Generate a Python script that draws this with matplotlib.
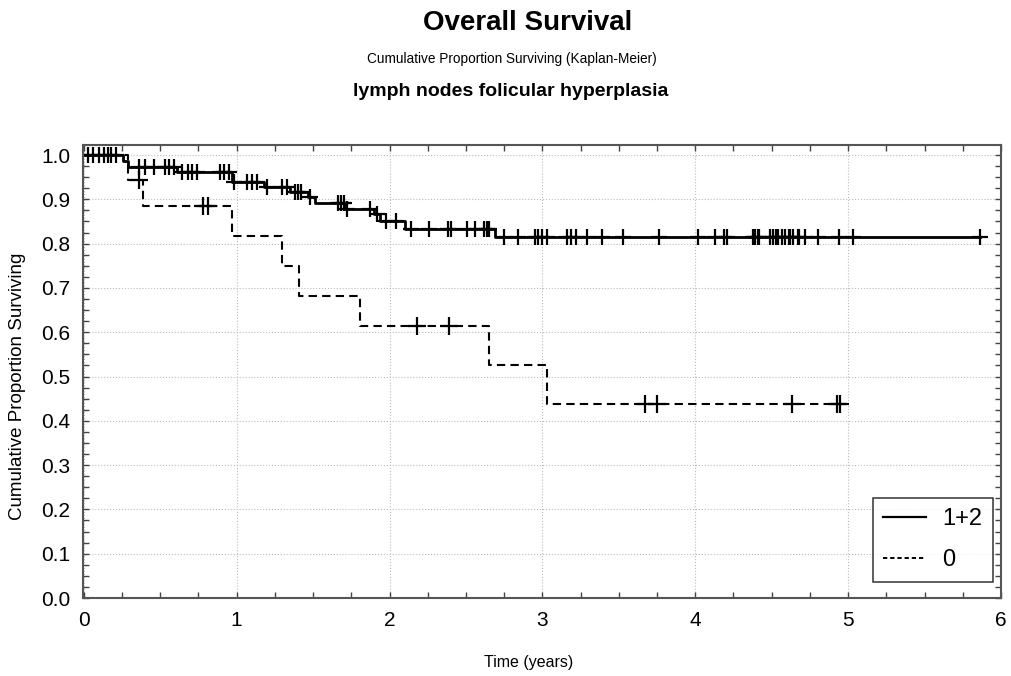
import numpy as np
import matplotlib
matplotlib.use('Agg')
import matplotlib.pyplot as plt
from matplotlib.lines import Line2D
from matplotlib.ticker import MultipleLocator

plt.rcParams['font.family'] = ['Liberation Sans', 'DejaVu Sans']

# group "1+2": step times (years) and survival after each step
t_12 = [0.0, 0.255, 0.29, 0.61, 0.97, 1.18, 1.35, 1.47, 1.51, 1.71, 1.90, 1.94, 2.10, 2.69]
s_12 = [1.0, 0.986, 0.973, 0.962, 0.939, 0.928, 0.916, 0.906, 0.892, 0.878, 0.867, 0.850, 0.833, 0.814]
end_12 = 5.86
cens_12 = [0.03, 0.06, 0.10, 0.13, 0.16, 0.18, 0.21,
           0.36, 0.40, 0.46, 0.53, 0.56, 0.59,
           0.64, 0.68, 0.71, 0.74, 0.89, 0.92, 0.95,
           0.98, 1.07, 1.10, 1.13,
           1.20, 1.30, 1.33,
           1.38, 1.40, 1.42,
           1.48,
           1.66, 1.68, 1.70,
           1.72, 1.87,
           1.92,
           1.98, 2.04,
           2.14, 2.26, 2.38, 2.40, 2.51, 2.56, 2.62, 2.64, 2.65,
           2.75, 2.84, 2.95, 2.97, 3.00, 3.03, 3.16, 3.19, 3.22, 3.29, 3.39, 3.53,
           3.76, 4.02, 4.13, 4.19, 4.21, 4.38, 4.39, 4.41, 4.42, 4.49, 4.51, 4.53,
           4.54, 4.57, 4.59, 4.61, 4.62, 4.64, 4.67, 4.68, 4.72, 4.80, 4.94, 5.03, 5.86]

# group "0"
t_0 = [0.0, 0.29, 0.39, 0.97, 1.30, 1.41, 1.81, 2.65, 3.03]
s_0 = [1.0, 0.944, 0.885, 0.817, 0.749, 0.681, 0.613, 0.525, 0.438]
end_0 = 4.95
cens_0 = [0.36, 0.78, 0.81, 2.18, 2.39, 3.67, 3.75, 4.63, 4.93, 4.95]

groups = ['1+2', '0']


def level_at(times, surv, c):
    idx = np.searchsorted(times, c, side='right') - 1
    return np.asarray(surv)[idx]


fig = plt.figure(figsize=(10.11, 6.76), dpi=100)
ax = fig.add_axes([83 / 1011, 1 - 598 / 676, (1001 - 83) / 1011, (598 - 145) / 676])

ax.step(t_12 + [end_12], s_12 + [s_12[-1]], where='post', color='black', lw=2.0)
ax.plot(cens_12, level_at(t_12, s_12, cens_12), ls='none', marker='+', ms=12, mew=1.6, color='black')

ax.step(t_0 + [end_0], s_0 + [s_0[-1]], where='post', color='black', lw=1.5, dashes=(4, 2.5))
ax.plot(cens_0, level_at(t_0, s_0, cens_0), ls='none', marker='+', ms=13, mew=1.6, color='black')

ax.set_xlim(-0.005, 6)
ax.set_ylim(0, 1.0226)
ax.xaxis.set_major_locator(MultipleLocator(1))
ax.xaxis.set_minor_locator(MultipleLocator(0.25))
ax.yaxis.set_major_locator(MultipleLocator(0.1))
ax.yaxis.set_minor_locator(MultipleLocator(0.025))
ax.set_yticklabels([f'{v:.1f}' for v in ax.get_yticks()])
ax.tick_params(which='both', direction='in', top=True, right=True, length=4, width=1,
               color='#444444', labelsize=15, pad=9)
ax.grid(True, which='major', ls=':', color='#bbbbbb', lw=0.8)
for sp in ax.spines.values():
    sp.set_color('#555555')
    sp.set_linewidth(1.5)

handles = [Line2D([], [], color='black', lw=1.6),
           Line2D([], [], color='black', lw=1.4, dashes=(2.2, 1.5))]
leg = ax.legend(handles, groups, loc='lower right', bbox_to_anchor=(0.9913, 0.0353),
                borderaxespad=0, fontsize=17, frameon=True, fancybox=False, edgecolor='black',
                handlelength=1.8, borderpad=0.45, labelspacing=0.8, handletextpad=0.7)
leg.get_frame().set_linewidth(1.1)

fig.text(528 / 1011, 1 - 23 / 676, 'Overall Survival', ha='center', va='center',
         fontsize=20, fontweight='bold')
fig.text(512 / 1011, 1 - 59 / 676, 'Cumulative Proportion Surviving (Kaplan-Meier)',
         ha='center', va='center', fontsize=9.8)
fig.text(511 / 1011, 1 - 91 / 676, 'lymph nodes folicular hyperplasia', ha='center',
         va='center', fontsize=14, fontweight='bold')
fig.text(18 / 1011, 1 - 386 / 676, 'Cumulative Proportion Surviving', rotation=90,
         ha='center', va='center', fontsize=13.5)
fig.text(529 / 1011, 1 - 663 / 676, 'Time (years)', ha='center', va='center', fontsize=11.5)

fig.savefig('out.png', dpi=100)
